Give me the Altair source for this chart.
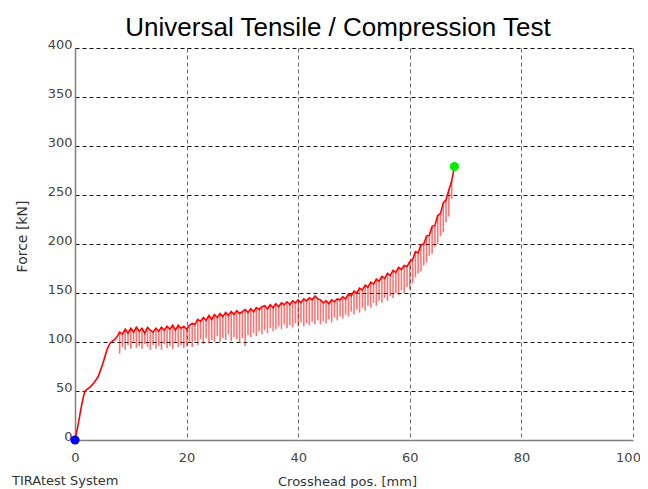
import altair as alt
import pandas as pd

# Initial elastic ramp (Crosshead pos. mm, Force kN)
ramp_x = [0.0, 0.3, 0.7, 1.1, 1.5, 1.8, 2.2, 2.7, 3.2, 3.6, 4.1, 4.5, 5.0, 5.4, 5.8, 6.2, 6.7, 7.2, 7.6]
ramp_y = [0, 8, 20, 33, 44, 50, 52, 54, 57, 60, 64, 70, 78, 86, 93, 98, 101, 103, 106]

# Sawtooth teeth: position, peak force, trough force
tooth_x = [
    8.0, 8.5, 9.0, 9.5, 10.0, 10.5, 11.0, 11.5, 12.0, 12.5, 13.0, 13.5, 14.0, 14.5, 15.0, 15.5,
    16.0, 16.5, 17.0, 17.5, 18.0, 18.5, 19.0, 19.5, 20.0, 20.5, 21.0, 21.5, 22.0, 22.5, 23.0, 23.5,
    24.0, 24.5, 25.0, 25.5, 26.0, 26.5, 27.0, 27.5, 28.0, 28.5, 29.0, 29.5, 30.0, 30.5, 31.0, 31.5,
    32.0, 32.5, 33.0, 33.5, 34.0, 34.5, 35.0, 35.5, 36.0, 36.5, 37.0, 37.5, 38.0, 38.5, 39.0, 39.5,
    40.0, 40.5, 41.0, 41.5, 42.0, 42.5, 43.0, 43.5, 44.0, 44.5, 45.0, 45.5, 46.0, 46.5, 47.0, 47.5,
    48.0, 48.5, 49.0, 49.5, 50.0, 50.5, 51.0, 51.5, 52.0, 52.5, 53.0, 53.5, 54.0, 54.5, 55.0, 55.5,
    56.0, 56.5, 57.0, 57.5, 58.0, 58.5, 59.0, 59.5, 60.0, 60.5, 61.0, 61.5, 62.0, 62.5, 63.0, 63.5,
    64.0, 64.5, 65.0, 65.5, 66.0, 66.5, 67.0, 67.5,
]
tooth_top = [
    110, 108, 113, 109, 114, 110, 115, 111, 114, 109, 115, 112, 110, 114, 111, 115,
    112, 116, 113, 117, 112, 117, 114, 116, 113, 117, 119, 118, 123, 121, 125, 122,
    127, 123, 128, 125, 129, 126, 130, 127, 131, 128, 132, 129, 131, 133, 130, 134,
    131, 135, 133, 136, 137, 134, 138, 135, 139, 136, 140, 138, 141, 138, 142, 140,
    143, 140, 144, 142, 145, 143, 147, 144, 143, 140, 142, 139, 143, 141, 144, 143,
    146, 144, 149, 147, 152, 150, 155, 153, 158, 156, 161, 159, 164, 162, 167, 165,
    170, 168, 173, 171, 176, 174, 178, 177, 182, 184, 192, 191, 199, 200, 208, 209,
    218, 219, 229, 231, 242, 245, 255, 264,
]
tooth_bottom = [
    88, 95, 92, 97, 93, 99, 94, 96, 93, 98, 95, 92, 97, 93, 96, 92,
    98, 94, 96, 93, 99, 95, 97, 94, 96, 99, 95, 101, 97, 103, 98, 104,
    99, 102, 100, 106, 100, 104, 102, 108, 101, 105, 103, 99, 104, 96, 107, 105,
    109, 106, 111, 108, 112, 109, 114, 111, 113, 116, 113, 118, 114, 117, 115, 119,
    116, 120, 116, 119, 117, 121, 118, 122, 118, 121, 119, 123, 120, 125, 122, 126,
    124, 128, 126, 131, 128, 133, 130, 135, 132, 137, 135, 140, 137, 142, 140, 145,
    142, 147, 145, 150, 148, 153, 150, 156, 154, 160, 166, 170, 172, 178, 181, 188,
    190, 197, 200, 208, 212, 222, 228, 246,
]

# Start / break markers
marker_x = [0.0, 68.0]
marker_y = [0, 279]
marker_color = ["#0000ff", "#00ee00"]

x_ticks = [0, 20, 40, 60, 80, 100]
y_ticks = [0, 50, 100, 150, 200, 250, 300, 350, 400]

FONT = "DejaVu Sans"
TITLE_FONT = "Liberation Sans"

line_df = pd.DataFrame({
    "x": ramp_x + tooth_x + [marker_x[1]],
    "y": ramp_y + tooth_top + [marker_y[1]],
})
line_df["i"] = range(len(line_df))
teeth_df = pd.DataFrame({"x": tooth_x, "top": tooth_top, "bottom": tooth_bottom})
marker_df = pd.DataFrame({"x": marker_x, "y": marker_y, "c": marker_color})

xscale = alt.Scale(domain=[0, 100], nice=False, zero=False)
yscale = alt.Scale(domain=[0, 400], nice=False)

xaxis = alt.Axis(
    values=x_ticks, grid=True, gridDash=[4, 3], gridColor="#666666", gridWidth=1,
    domainColor="#808080", domainWidth=1.5, ticks=False, labelFlush=False,
    labelFont=FONT, labelFontSize=13, labelColor="#444444", labelPadding=11,
    labelOffset={"condition": {"test": "datum.value == 100", "value": -5}, "value": 0},
    title="Crosshead pos. [mm]", titleFont=FONT, titleFontSize=13, titleFontWeight="normal",
    titleColor="#333333", titleX=272, titleY=41, titleBaseline="middle", titleAlign="center",
)
yaxis = alt.Axis(
    values=y_ticks, grid=True, gridDash=[4, 3], gridColor="#111111", gridWidth=1,
    domainColor="#808080", domainWidth=1.5, ticks=False,
    labelFont=FONT, labelFontSize=13, labelColor="#444444", labelPadding=3,
    labelAlign="right", labelBaseline="alphabetic",
    title="Force [kN]", titleFont=FONT, titleFontSize=14, titleFontWeight="normal",
    titleColor="#333333", titleAngle=270, titleX=-53, titleY=188,
    titleBaseline="middle", titleAlign="center",
)

teeth = alt.Chart(teeth_df).mark_rule(color="#ff0000", strokeWidth=1.6, opacity=0.55).encode(
    x=alt.X("x:Q", scale=xscale, axis=xaxis),
    y=alt.Y("top:Q", scale=yscale, axis=yaxis),
    y2="bottom:Q",
)

line = alt.Chart(line_df).mark_line(color="#ff0000", strokeWidth=1.6).encode(
    x=alt.X("x:Q", scale=xscale),
    y=alt.Y("y:Q", scale=yscale),
    order="i:Q",
)

markers = alt.Chart(marker_df).mark_circle(size=85, opacity=1).encode(
    x=alt.X("x:Q", scale=xscale),
    y=alt.Y("y:Q", scale=yscale),
    color=alt.Color("c:N", scale=None),
)

footer = alt.Chart(pd.DataFrame({"t": ["TIRAtest System"]})).mark_text(
    align="left", baseline="middle", font=FONT, fontSize=13, color="#333333"
).encode(x=alt.value(-63), y=alt.value(433), text="t:N")

chart = alt.layer(teeth, line, markers, footer).properties(
    width=558,
    height=392,
    title=alt.TitleParams(
        "Universal Tensile / Compression Test", font=TITLE_FONT, fontSize=26, fontWeight="normal",
        color="#000000", anchor="middle", frame="group", offset=0, dx=-16, dy=3,
    ),
    autosize=alt.AutoSizeParams(type="none"),
    padding={"left": 67, "top": 40, "right": 7, "bottom": 48},
).configure_view(stroke="transparent")

chart.save("out.html", embed_options={"renderer": "svg", "actions": False})
